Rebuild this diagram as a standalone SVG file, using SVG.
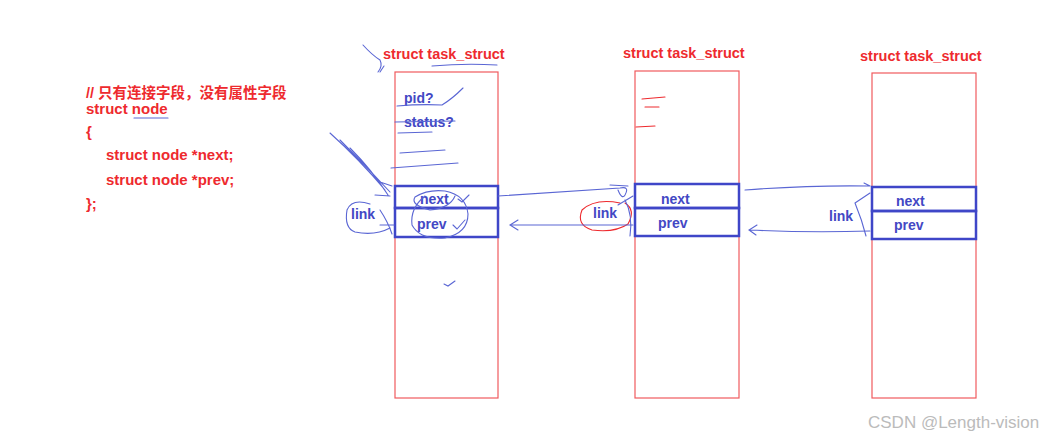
<svg xmlns="http://www.w3.org/2000/svg" width="1044" height="440" viewBox="0 0 1044 440">
<style>
.t{font-family:"Liberation Sans","Noto Sans CJK SC",sans-serif;font-weight:bold;font-size:14.5px;fill:#ee2a2e}
.c{font-size:15px}
.b{font-family:"Liberation Sans","Noto Sans CJK SC",sans-serif;font-weight:bold;font-size:14px;fill:#4348c4}
.task{fill:none;stroke:#f05a5e;stroke-width:1.2}
.fld{fill:none;stroke:#3f46c8;stroke-width:2.5}
.hand{fill:none;stroke:#5a66d4;stroke-width:1.1;stroke-linecap:round}
.red{fill:none;stroke:#ee2a2e;stroke-width:1.1;stroke-linecap:round}
</style>
<rect width="1044" height="440" fill="#fff"/>

<g id="code">
<text class="t" x="86" y="98">// 只有连接字段，没有属性字段</text>
<text class="t c" x="86" y="114">struct node</text>
<text class="t c" x="86" y="137">{</text>
<text class="t c" x="106" y="160">struct node *next;</text>
<text class="t c" x="106" y="185">struct node *prev;</text>
<text class="t c" x="86" y="209">};</text>
<path class="hand" d="M134 118 L168 118"/>
</g>

<g id="task1">
<text class="t" x="383" y="59">struct task_struct</text>
<path class="hand" d="M432 66 Q465 63 497 65"/>
<rect class="task" x="395" y="72" width="103" height="326"/>
<text class="b" x="404" y="103">pid?</text>
<text class="b" x="404" y="127">status?</text>
<rect class="fld" x="395" y="186" width="103" height="22"/>
<rect class="fld" x="395" y="208" width="103" height="29"/>
<text class="b" x="420" y="204">next</text>
<text class="b" x="417" y="229">prev</text>
<path class="hand" d="M397 106 Q420 104 442 105 Q452 99 463 88 M395 122 L455 121 M398 133 L432 132 M400 153 L445 150 M391 168 L458 163"/>
<path class="hand" d="M425 196 Q410 208 412 225 Q420 240 445 238 Q468 233 468 214 Q466 195 445 191 Q428 189 415 197 Q410 205 430 210 Q450 208 455 196"/>
<path class="hand" d="M458 199 L462 202 L469 195 M453 225 L457 229 L465 220"/>
<path class="hand" d="M444 284 L448 286 L455 281"/>
</g>

<g id="task2">
<text class="t" x="623" y="58">struct task_struct</text>
<rect class="task" x="635" y="71" width="104" height="327"/>
<path class="red" d="M642 99 L665 97 M645 107 L659 107 M636 127 L655 126"/>
<rect class="fld" x="635" y="184" width="104" height="24"/>
<rect class="fld" x="635" y="208" width="104" height="28"/>
<text class="b" x="661" y="204">next</text>
<text class="b" x="658" y="228">prev</text>
</g>

<g id="task3">
<text class="t" x="860" y="61">struct task_struct</text>
<rect class="task" x="872" y="73" width="104" height="325"/>
<rect class="fld" x="872" y="187" width="104" height="24"/>
<rect class="fld" x="872" y="211" width="104" height="28"/>
<text class="b" x="896" y="206">next</text>
<text class="b" x="894" y="230">prev</text>
</g>

<g id="links">
<text class="b" x="351" y="219">link</text>
<path class="hand" d="M370 204 Q352 198 347 210 Q344 228 355 232 Q375 236 390 228"/>
<path class="hand" d="M380 210 Q388 222 392 234 M380 225 L394 225"/>
<text class="b" x="593" y="218">link</text>
<path class="red" d="M620 203 Q595 198 582 210 Q576 225 592 230 Q615 233 628 224 Q636 210 625 203"/>
<path class="hand" d="M625 200 Q633 215 630 236 M618 205 L633 196"/>
<text class="b" x="829" y="221">link</text>
<path class="hand" d="M855 203 Q862 220 866 236 M855 203 L870 193"/>
</g>

<g id="connectors">
<path class="hand" d="M498 196 Q560 192 620 188 Q630 186 625 195 Q622 200 618 190 M610 185 L628 186"/>
<path class="hand" d="M633 225 Q570 225 512 225 M518 220 L510 225 L518 230"/>
<path class="hand" d="M745 190 Q810 185 870 186 M864 183 L870 186"/>
<path class="hand" d="M870 231 Q810 233 750 230 M757 225 L749 230 L756 235"/>
<path class="hand" d="M363 45 Q372 55 380 60 Q383 66 378 72 M380 72 L384 66"/>
<path class="hand" d="M330 133 Q360 160 385 190 M340 140 Q365 165 390 192 M350 148 Q372 170 388 195 M380 182 L392 186 M375 195 L390 196"/>
</g>

<g id="watermark">
<text x="868" y="428" font-family="Liberation Sans,sans-serif" font-size="17" fill="#bbbbbb">CSDN @Length-vision</text>
</g>
</svg>
